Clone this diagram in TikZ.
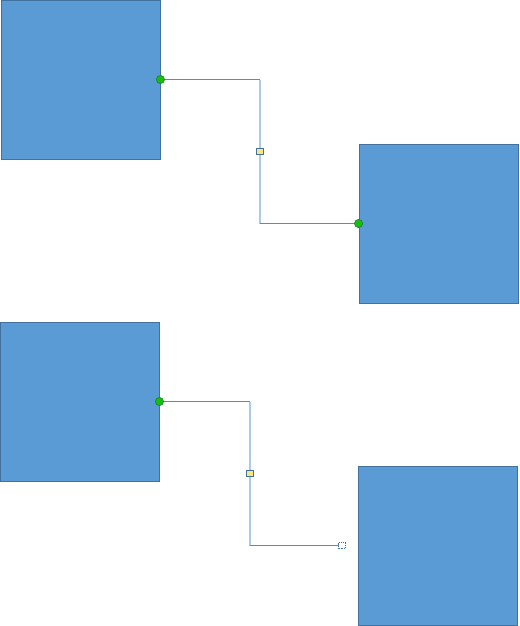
\documentclass[tikz,border=0pt]{standalone}
\usetikzlibrary{positioning,calc}

\definecolor{boxfill}{HTML}{5B9BD5}
\definecolor{boxline}{HTML}{41719C}
\definecolor{linkdark}{HTML}{5A8AC0}
\definecolor{linklight}{HTML}{A9CAE8}
\definecolor{gluegreen}{HTML}{11C011}
\definecolor{gluedark}{HTML}{2F7F2F}
\definecolor{handleyellow}{HTML}{FFE47A}

\begin{document}
\begin{tikzpicture}[x=1pt, y=-1pt,
    shapebox/.style={rectangle, draw=boxline, fill=boxfill, line width=0.9pt, minimum size=159pt, inner sep=0pt},
    segdark/.style={draw=linkdark, line width=0.8pt},
    seglight/.style={draw=linklight, line width=1.8pt},
    glue/.style={circle, draw=gluedark, fill=gluegreen, line width=0.7pt, minimum size=8.2pt, inner sep=0pt},
    handle/.style={rectangle, draw=boxline, fill=handleyellow, line width=0.8pt, minimum size=6.5pt, inner sep=0pt},
    freeend/.style={rectangle, draw=boxline, fill=white, dash pattern=on 1pt off 0.8pt, line width=0.8pt, minimum size=6.5pt, inner sep=0pt}
]
\useasboundingbox (0,0) rectangle (519,626);

% Glued connector (top)
\node[shapebox] (s1) at (80.5,79.5) {};
\node[shapebox] (s2) at (438.5,223.5) {};
\coordinate (k1) at (260,79.5);
\coordinate (k2) at (260,223.5);
\draw[seglight] (k1) -- (k2);
\draw[segdark] (s1.east) -- (k1);
\draw[segdark] (k2) -- (s2.west);
\node[glue] (g1) at (s1.east) {};
\node[glue] (g2) at (s2.west) {};
\node[handle] (h1) at ($(k1)!0.5!(k2)$) {};

% Unglued connector (bottom)
\node[shapebox] (s3) at (79.5,401.5) {};
\node[shapebox] (s4) at (437.5,545.5) {};
\coordinate (k3) at (250,401.5);
\coordinate (k4) at (250,545.5);
\coordinate (e4) at (342,545.5);
\draw[seglight] (k3) -- (k4);
\draw[segdark] (s3.east) -- (k3);
\draw[segdark] (k4) -- (e4);
\node[glue] (g3) at (s3.east) {};
\node[handle] (h2) at ($(k3)!0.5!(k4)$) {};
\node[freeend] (f4) at (e4) {};

\end{tikzpicture}
\end{document}
